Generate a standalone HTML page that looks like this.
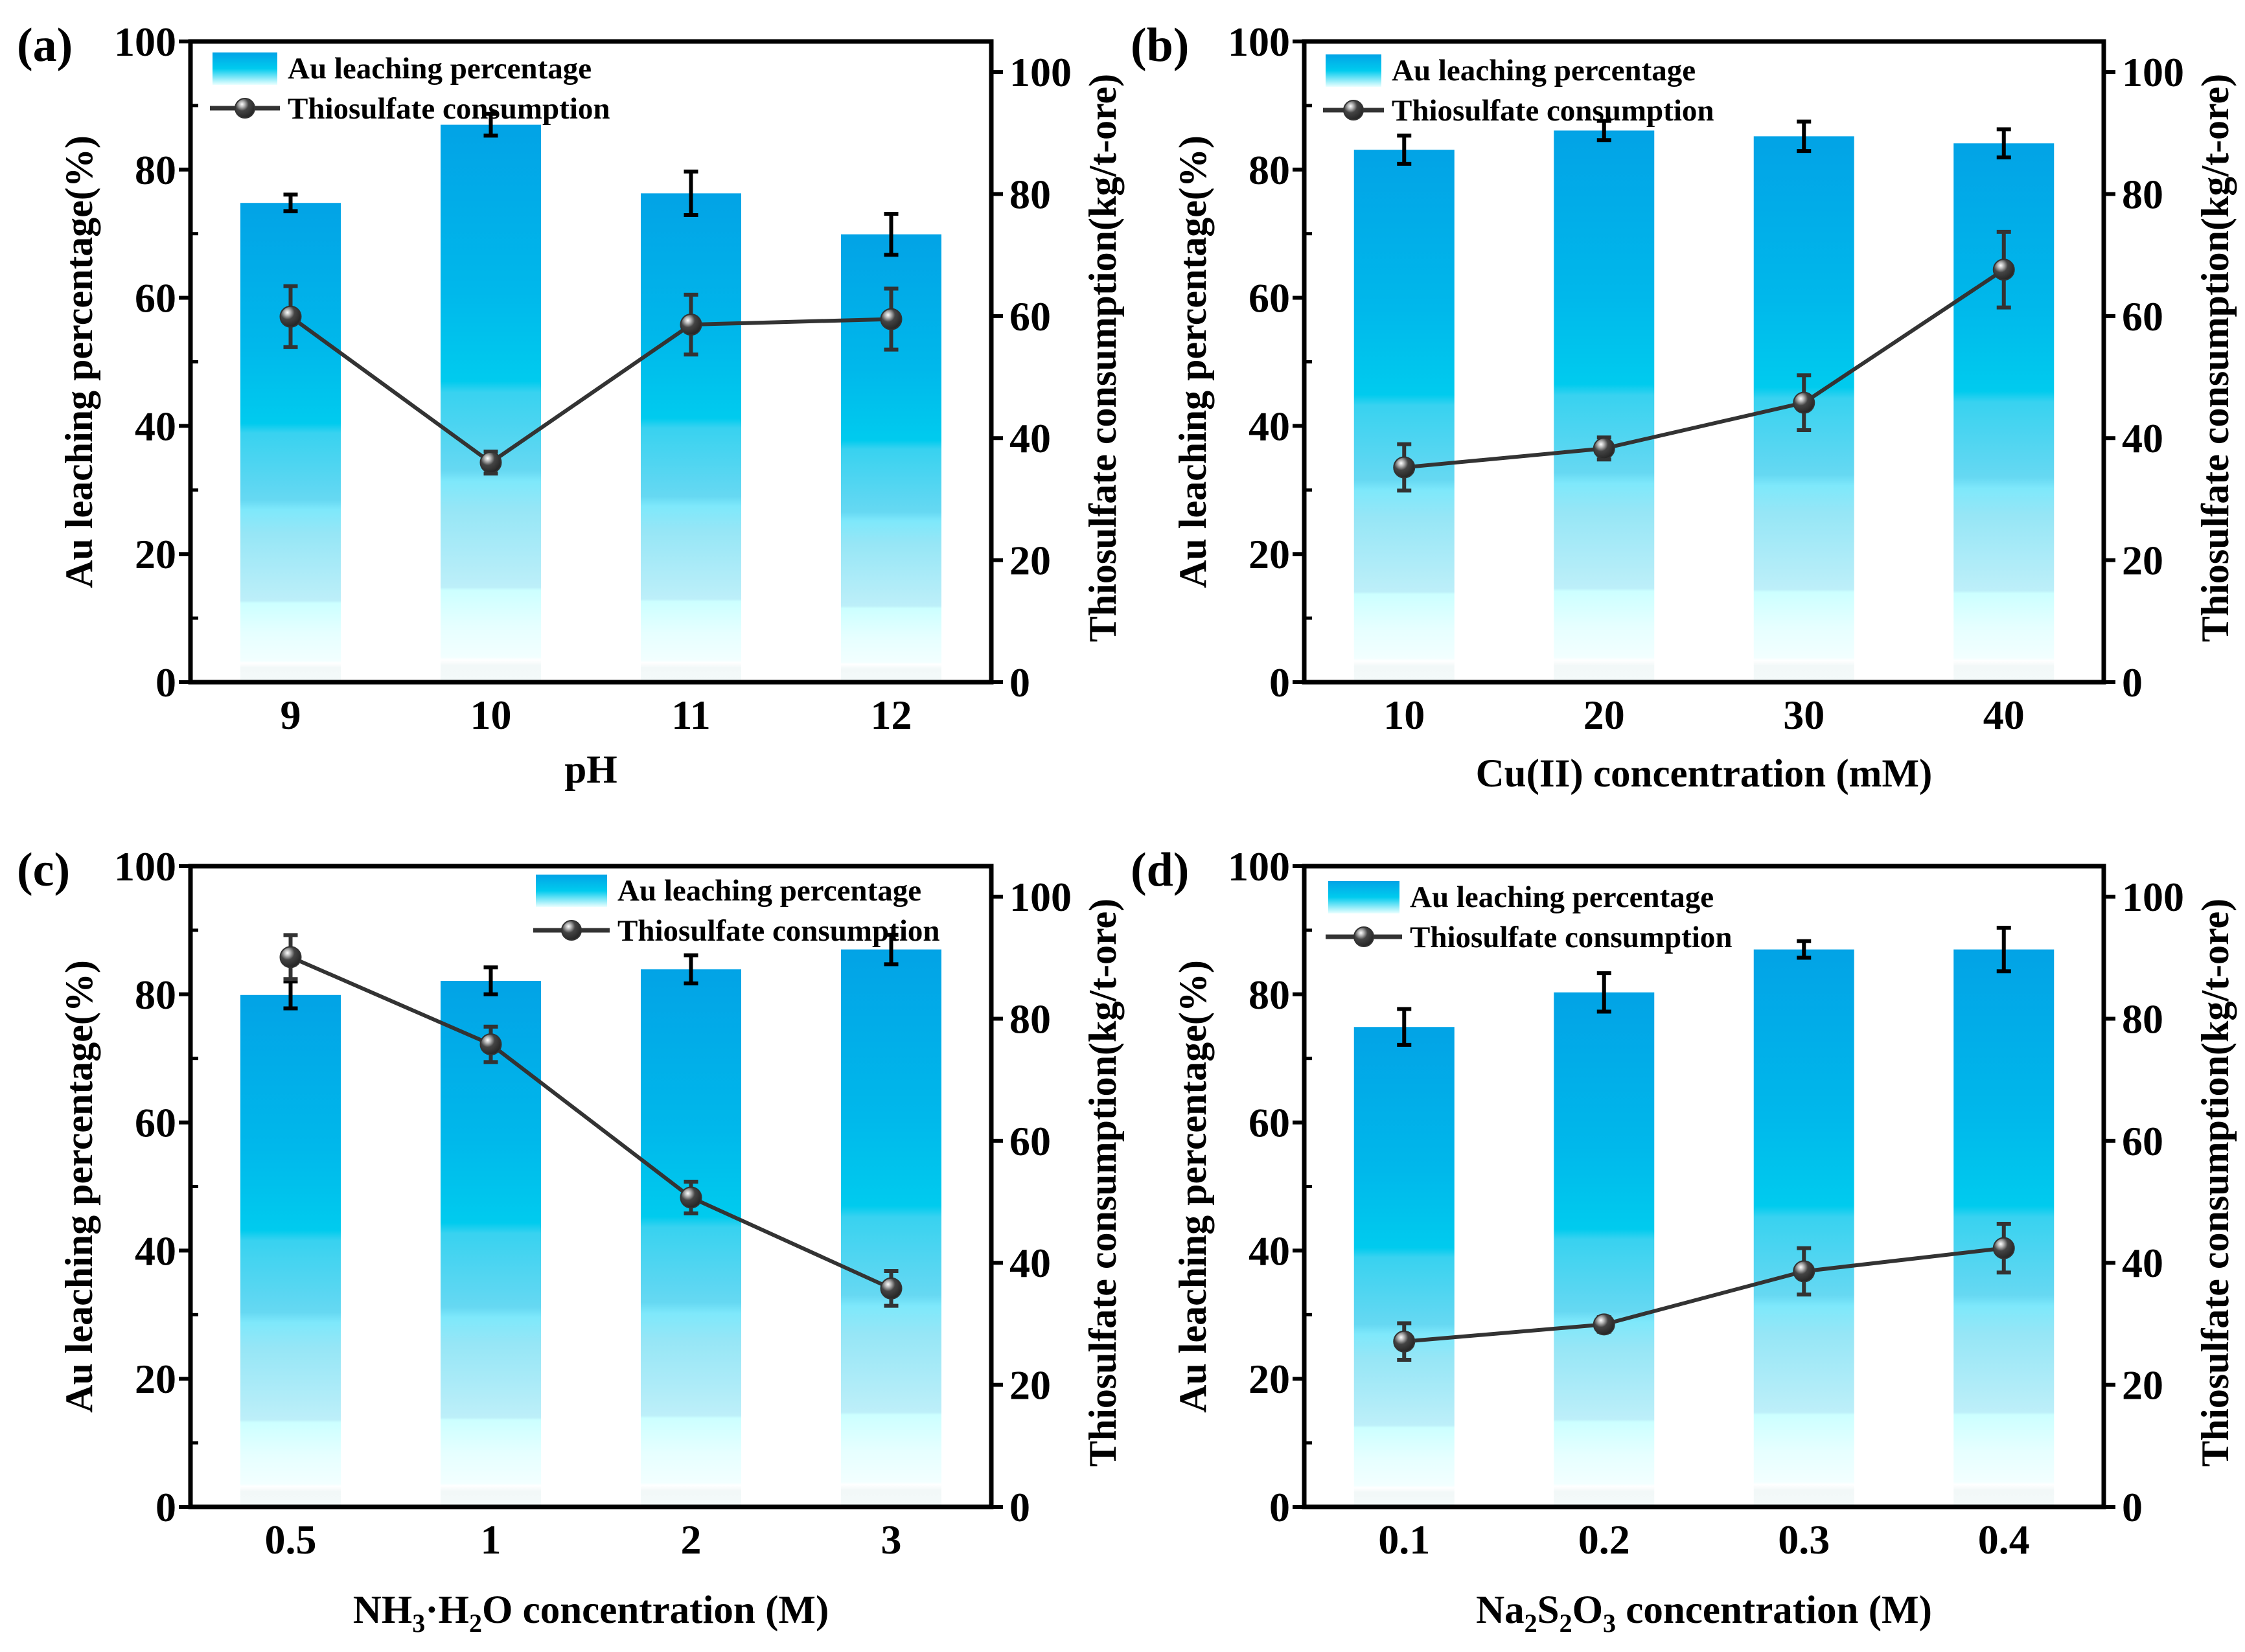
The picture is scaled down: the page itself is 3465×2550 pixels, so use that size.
<!DOCTYPE html>
<html><head><meta charset="utf-8"><style>
html,body{margin:0;padding:0;background:#fff;}
svg{display:block;font-family:"Liberation Serif","DejaVu Serif",serif;font-weight:bold;}
</style></head><body>
<svg id="fig" width="3465" height="2550" viewBox="0 0 3465 2550" xmlns="http://www.w3.org/2000/svg">
<defs>
<linearGradient id="barg" x1="0" y1="0" x2="0" y2="1">
<stop offset="0" stop-color="#02a3e6"/>
<stop offset="0.3" stop-color="#00b8eb"/>
<stop offset="0.46" stop-color="#00cbee"/>
<stop offset="0.48" stop-color="#38d2f0"/>
<stop offset="0.62" stop-color="#66d8f2"/>
<stop offset="0.64" stop-color="#7ee8fb"/>
<stop offset="0.69" stop-color="#96e6f6"/>
<stop offset="0.83" stop-color="#bdeff9"/>
<stop offset="0.835" stop-color="#ccffff"/>
<stop offset="0.9" stop-color="#e6ffff"/>
<stop offset="0.955" stop-color="#f2ffff"/>
<stop offset="0.96" stop-color="#ffffff"/>
<stop offset="0.97" stop-color="#f2f8f8"/>
<stop offset="1" stop-color="#f4fafa"/>
</linearGradient>
<linearGradient id="legg" x1="0" y1="0" x2="0" y2="1">
<stop offset="0" stop-color="#02a3e6"/>
<stop offset="0.5" stop-color="#00cbee"/>
<stop offset="1" stop-color="#eaffff"/>
</linearGradient>
<radialGradient id="ball" cx="0.35" cy="0.3" r="0.75">
<stop offset="0" stop-color="#ffffff"/>
<stop offset="0.18" stop-color="#bbbbbb"/>
<stop offset="0.45" stop-color="#444444"/>
<stop offset="1" stop-color="#222222"/>
</radialGradient>
</defs>
</svg>
<script>
// Panel (a)
const catsA = ["9","10","11","12"];
const barsA = [74.8, 87.0, 76.3, 69.9];
const barErrA = [1.3, 1.7, 3.4, 3.2];
const lineA = [59.9, 36.0, 58.6, 59.5];
const lineErrA = [5.0, 1.8, 4.9, 5.0];
// Panel (b)
const catsB = ["10","20","30","40"];
const barsB = [83.1, 86.1, 85.2, 84.1];
const barErrB = [2.2, 1.5, 2.3, 2.2];
const lineB = [35.2, 38.3, 45.8, 67.6];
const lineErrB = [3.8, 1.8, 4.5, 6.2];
// Panel (c)
const catsC = ["0.5","1","2","3"];
const barsC = [79.9, 82.1, 83.9, 87.0];
const barErrC = [2.1, 2.1, 2.2, 2.3];
const lineC = [90.1, 75.8, 50.7, 35.8];
const lineErrC = [3.6, 2.9, 2.6, 2.85];
// Panel (d)
const catsD = ["0.1","0.2","0.3","0.4"];
const barsD = [74.9, 80.3, 87.0, 87.0];
const barErrD = [2.8, 3.0, 1.3, 3.4];
const lineD = [27.1, 29.9, 38.6, 42.4];
const lineErrD = [3.0, 1.2, 3.8, 4.0];
const leftTicks = [0,20,40,60,80,100];
const rightTicks = [0,20,40,60,80,100];

const NS="http://www.w3.org/2000/svg";
const svg=document.getElementById('fig');
function mk(tag,attrs,parent,text){const e=document.createElementNS(NS,tag);for(const k in attrs)e.setAttribute(k,attrs[k]);if(text!==undefined)e.textContent=text;(parent||svg).appendChild(e);return e;}

function panel(o){
  const g=mk('g',{});
  
  
  const L=o.L,R=o.R,T=o.T,B=o.B;
  const xs=i=>L+(i+0.5)*(R-L)/o.cats.length;
  const yl=v=>B-(v/100)*(B-T);
  const yr=v=>B-(v/105)*(B-T);
  const bw=155;
  o.bars.forEach((v,i)=>{
    const r=mk('rect',{x:xs(i)-bw/2,y:yl(v),width:bw,height:B-yl(v),fill:'url(#barg)'},g);
    
    
  });
  o.bars.forEach((v,i)=>{
    const e=o.barErr[i],x=xs(i);
    const p=mk('path',{d:`M${x},${yl(v-e)}V${yl(v+e)}M${x-11},${yl(v-e)}h22M${x-11},${yl(v+e)}h22`,stroke:'#000','stroke-width':6,fill:'none'},g);
    
    
  });
  const pts=o.line.map((v,i)=>xs(i)+','+yr(v)).join(' ');
  const pl=mk('polyline',{points:pts,fill:'none',stroke:'#333','stroke-width':6},g);
  
  
  o.line.forEach((v,i)=>{
    const e=o.lineErr[i],x=xs(i);
    const p=mk('path',{d:`M${x},${yr(v-e)}V${yr(v+e)}M${x-11},${yr(v-e)}h22M${x-11},${yr(v+e)}h22`,stroke:'#333','stroke-width':6,fill:'none'},g);
    
    
    const c=mk('circle',{cx:x,cy:yr(v),r:16,fill:'url(#ball)',stroke:'#333','stroke-width':2},g);
    
    
  });
  const f=mk('rect',{x:L,y:T,width:R-L,height:B-T,fill:'none',stroke:'#000','stroke-width':7},g);
  
  
  leftTicks.forEach(t=>{
    mk('line',{x1:L-18,x2:L,y1:yl(t),y2:yl(t),stroke:'#000','stroke-width':6},g);
    const tx=mk('text',{x:L-22,y:yl(t)+22,'text-anchor':'end','font-size':64},g,String(t));
    
    
  });
  [10,30,50,70,90].forEach(t=>mk('line',{x1:L,x2:L+12,y1:yl(t),y2:yl(t),stroke:'#000','stroke-width':5},g));
  rightTicks.forEach(t=>{
    mk('line',{x1:R,x2:R+18,y1:yr(t),y2:yr(t),stroke:'#000','stroke-width':6},g);
    const tx=mk('text',{x:R+28,y:yr(t)+22,'font-size':64},g,String(t));
    
    
  });
  o.cats.forEach((c,i)=>{
    const tx=mk('text',{x:xs(i),y:B+72,'text-anchor':'middle','font-size':64},g,c);
    
    
  });
  const yc=(T+B)/2;
  const lt=mk('text',{x:0,y:0,'text-anchor':'middle','font-size':60,transform:`translate(${L-152},${yc}) rotate(-90)`},g,'Au leaching percentage(%)');
  
  
  const rt=mk('text',{x:0,y:0,'text-anchor':'middle','font-size':60,transform:`translate(${R+192},${yc-6}) rotate(-90)`},g,'Thiosulfate consumption(kg/t-ore)');
  
  
  const xt=mk('text',{x:(L+R)/2,y:o.xtY,'text-anchor':'middle','font-size':61},g);
  xt.innerHTML=o.xt;
  
  
  const pl2=mk('text',{x:L-268,y:T+30,'font-size':74},g,'('+o.id+')');
  
  
  const lg=mk('g',{},g);
  
  
  mk('rect',{x:o.lx,y:o.ly,width:o.lw,height:50,fill:'url(#legg)'},lg);
  const l1=mk('text',{x:o.lx+o.lw+16,y:o.ly+40,'font-size':47},lg,'Au leaching percentage');
  
  
  const ly2=o.ly+86;
  mk('line',{x1:o.lx-4,x2:o.lx+o.lw+4,y1:ly2,y2:ly2,stroke:'#333','stroke-width':7},lg);
  mk('circle',{cx:o.lx+o.lw/2,cy:ly2,r:15,fill:'url(#ball)',stroke:'#333','stroke-width':2},lg);
  const l2=mk('text',{x:o.lx+o.lw+16,y:ly2+16,'font-size':47},lg,'Thiosulfate consumption');
  
  
}
panel({id:'a',L:294,R:1530,T:64,B:1053,cats:catsA,bars:barsA,barErr:barErrA,line:lineA,lineErr:lineErrA,xt:'pH',xtY:1208,lx:328,ly:81,lw:100});
panel({id:'b',L:2013,R:3247,T:64,B:1053,cats:catsB,bars:barsB,barErr:barErrB,line:lineB,lineErr:lineErrB,xt:'Cu(II) concentration (mM)',xtY:1214,lx:2046,ly:84,lw:86});
panel({id:'c',L:294,R:1530,T:1337,B:2326,cats:catsC,bars:barsC,barErr:barErrC,line:lineC,lineErr:lineErrC,xt:'NH<tspan font-size="40" dy="14">3</tspan><tspan dy="-14">·H</tspan><tspan font-size="40" dy="14">2</tspan><tspan dy="-14">O concentration (M)</tspan>',xtY:2505,lx:827,ly:1350,lw:110});
panel({id:'d',L:2013,R:3247,T:1337,B:2326,cats:catsD,bars:barsD,barErr:barErrD,line:lineD,lineErr:lineErrD,xt:'Na<tspan font-size="40" dy="14">2</tspan><tspan dy="-14">S</tspan><tspan font-size="40" dy="14">2</tspan><tspan dy="-14">O</tspan><tspan font-size="40" dy="14">3</tspan><tspan dy="-14"> concentration (M)</tspan>',xtY:2505,lx:2050,ly:1360,lw:110});
</script>
</body></html>
